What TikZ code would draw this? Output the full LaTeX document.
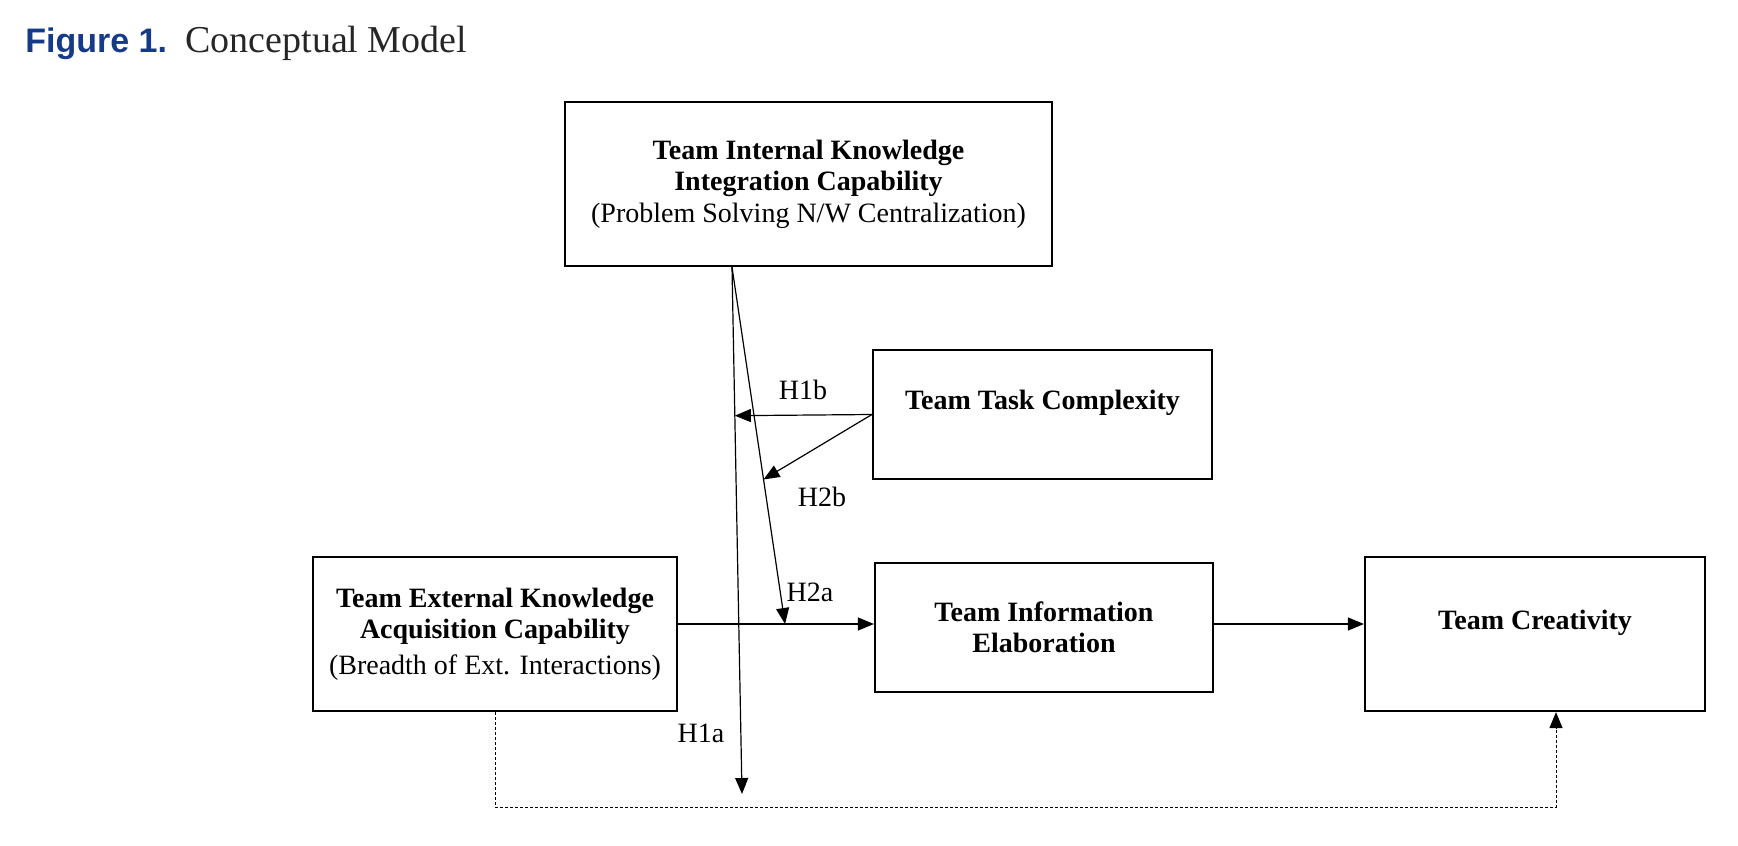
\documentclass[tikz,border=0pt]{standalone}
\usepackage{fontspec}
\setmainfont{Liberation Serif}
\newfontfamily\figfont{Liberation Sans}
\usetikzlibrary{calc,arrows.meta}
\definecolor{figblue}{RGB}{22,58,138}

\tikzset{
  box/.style={draw,line width=1.1pt,align=center,inner sep=0pt,font=\fontsize{14}{15.75}\selectfont},
  raised/.style={text height=10pt,text depth=15pt},
  hlabel/.style={font=\fontsize{14}{16}\selectfont},
  link/.style={line width=0.6pt,-{Triangle[length=8pt,width=6.5pt]}},
}

\begin{document}
\begin{tikzpicture}[x=0.5pt,y=-0.5pt]
\useasboundingbox (0,0) rectangle (1738,845);
% title
\node[anchor=base west,inner sep=0pt,text=figblue,font=\figfont\bfseries\fontsize{17}{20}\selectfont] (fignum) at (25,53) {Figure 1.};
\node[anchor=base west,inner sep=0pt,text=black!85,font=\fontsize{19}{22}\selectfont] (figtitle) at (185,53) {Conceptual Model};
% boxes
\node[box,minimum width=243.5pt,minimum height=82pt] (internal) at (808.5,184) {\textbf{Team Internal Knowledge}\\\textbf{Integration Capability}\\(Problem Solving N/W Centralization)};
\node[box,raised,minimum width=169.5pt,minimum height=64.5pt] (task) at (1042.5,414.5) {\textbf{Team Task Complexity}};
\node[box,minimum width=182pt,minimum height=77pt] (ext) at (495,634) {\textbf{Team External Knowledge}\\\textbf{Acquisition Capability}\\[2pt](Breadth of Ext. Interactions)};
\node[box,minimum width=169pt,minimum height=64.5pt] (info) at (1044,627.5) {\textbf{Team Information}\\\textbf{Elaboration}};
\node[box,raised,minimum width=170pt,minimum height=77pt] (creat) at (1535,634) {\textbf{Team Creativity}};
% connectors
\coordinate (src) at ([xshift=-38.25pt]internal.south);
\coordinate (h1aend) at (742,794);
\coordinate (h2atip) at (785,624);
\coordinate (h1bhit) at ($(src)!0.282!(h1aend)$);
\coordinate (h2bhit) at ($(src)!0.595!(h2atip)$);
\coordinate (dashbase) at (1556,807);
\draw[link] (src) -- (h1aend);
\draw[link] (src) -- (h2atip);
\draw[link] (ext.east |- h2atip) -- (info.west |- h2atip);
\draw[link] (info.east |- h2atip) -- (creat.west |- h2atip);
\draw[link] (task.west) -- (h1bhit);
\draw[link] (task.west) -- (h2bhit);
\draw[link,line width=0.5pt,dash pattern=on 1.5pt off 1pt] (ext.south) |- (dashbase) -- (dashbase |- creat.south);
% hypothesis labels
\node[hlabel] (h1b) at (803,390) {H1b};
\node[hlabel] (h2b) at (822,497) {H2b};
\node[hlabel] (h2a) at (810,592) {H2a};
\node[hlabel] (h1a) at (701,733) {H1a};
\end{tikzpicture}
\end{document}
